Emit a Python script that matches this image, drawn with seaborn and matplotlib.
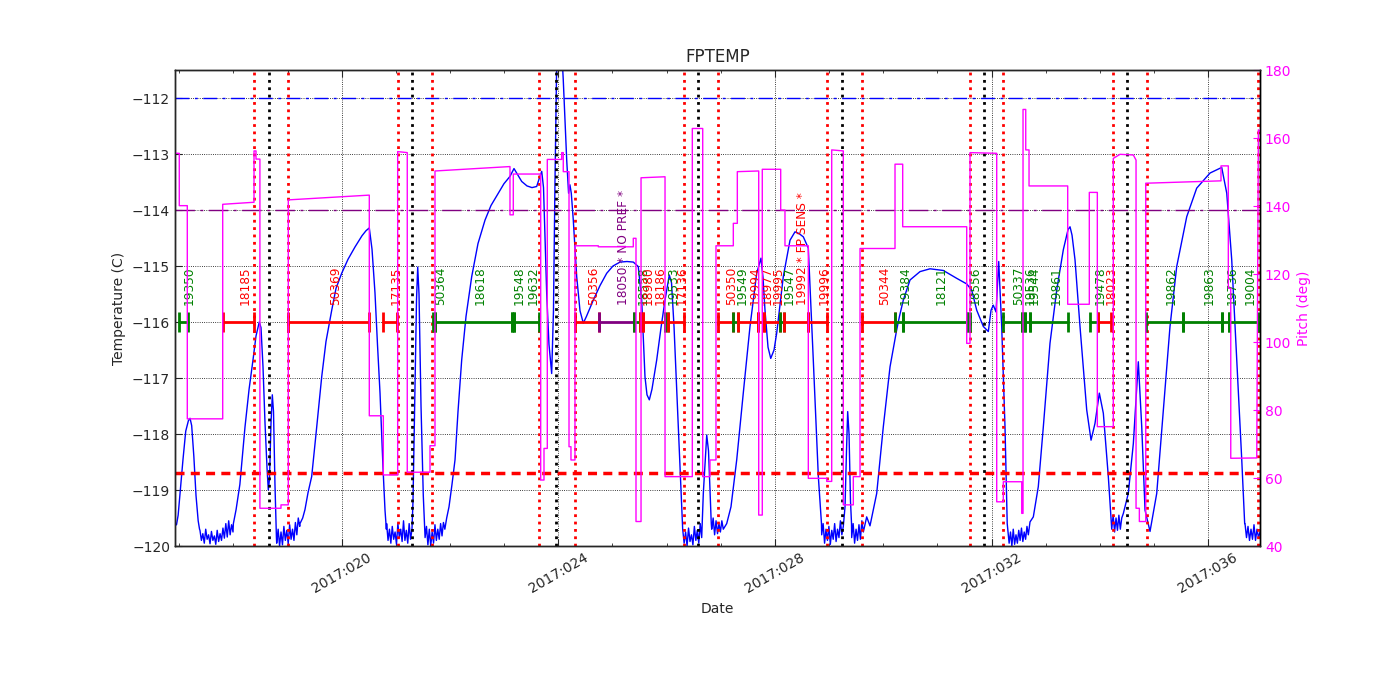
import numpy as np
import pandas as pd
import matplotlib
matplotlib.use("Agg")
import matplotlib.pyplot as plt
import seaborn as sns
from matplotlib.ticker import MultipleLocator, FuncFormatter

# FPTEMP keypoints (day of 2017, deg C), smooth parts of the curve
fptemp_pts = [
    (16.922, -119.63), (16.95, -119.62), (16.98, -119.45), (17.02, -119.0), (17.07, -118.45),
    (17.12, -117.95), (17.17, -117.76), (17.20, -117.72), (17.23, -117.85), (17.27, -118.4),
    (17.31, -119.1), (17.35, -119.55), (17.375, -119.7),
    (18.00, -119.6), (18.05, -119.35), (18.12, -118.9), (18.214, -117.88), (18.29, -117.2),
    (18.362, -116.68), (18.418, -116.25), (18.478, -116.0), (18.51, -116.1), (18.547, -116.8),
    (18.584, -117.8), (18.621, -118.6), (18.645, -119.0), (18.667, -118.8), (18.695, -117.8),
    (18.719, -117.3), (18.741, -117.6), (18.768, -118.9), (18.795, -119.85),
    (19.23, -119.6), (19.28, -119.5), (19.322, -119.35), (19.378, -119.05), (19.446, -118.76),
    (19.526, -118.0), (19.631, -116.98), (19.71, -116.35), (19.816, -115.79), (19.895, -115.4),
    (20.0, -115.13), (20.117, -114.88), (20.246, -114.66), (20.375, -114.46), (20.449, -114.37),
    (20.51, -114.32), (20.56, -114.7), (20.615, -115.48), (20.661, -116.4), (20.708, -117.27),
    (20.763, -118.6), (20.80, -119.36), (20.825, -119.7),
    (21.317, -119.2), (21.354, -117.2), (21.382, -115.6), (21.404, -115.02), (21.428, -115.5),
    (21.465, -117.5), (21.507, -119.1), (21.535, -119.75),
    (21.939, -119.5), (21.982, -119.3), (22.037, -118.9), (22.093, -118.46), (22.148, -117.6),
    (22.216, -116.68), (22.296, -115.9), (22.401, -115.19), (22.517, -114.6), (22.647, -114.18),
    (22.757, -113.92), (22.892, -113.70), (22.997, -113.53), (23.108, -113.40), (23.182, -113.26),
    (23.237, -113.35), (23.324, -113.49), (23.422, -113.57), (23.514, -113.6), (23.601, -113.58),
    (23.644, -113.45), (23.694, -113.31), (23.727, -113.6), (23.786, -115.49), (23.828, -116.4),
    (23.878, -116.92), (23.911, -115.8), (23.939, -113.5), (23.967, -111.6), (23.995, -110.8),
    (24.05, -110.9), (24.092, -111.68), (24.155, -113.1), (24.19, -113.7), (24.215, -113.55),
    (24.24, -113.7), (24.277, -114.18), (24.34, -115.19), (24.401, -115.8), (24.462, -116.02),
    (24.52, -115.9), (24.646, -115.61), (24.77, -115.35), (24.894, -115.13), (25.01, -115.0),
    (25.14, -114.93), (25.269, -114.92), (25.385, -114.93), (25.477, -115.01), (25.54, -115.61),
    (25.601, -116.98), (25.638, -117.3), (25.681, -117.39), (25.73, -117.2), (25.817, -116.68),
    (25.897, -116.1), (25.971, -115.61), (26.05, -115.16), (26.091, -115.3), (26.137, -116.08),
    (26.216, -117.87), (26.29, -119.54),
    (26.678, -119.06), (26.741, -118.02), (26.774, -118.3), (26.825, -119.6),
    (27.11, -119.6), (27.189, -119.3), (27.295, -118.46), (27.416, -117.27), (27.54, -116.08),
    (27.664, -115.13), (27.743, -114.86), (27.78, -115.2), (27.817, -115.79), (27.873, -116.45),
    (27.923, -116.65), (27.984, -116.5), (28.033, -116.2), (28.155, -115.19), (28.279, -114.54),
    (28.371, -114.39), (28.445, -114.42), (28.525, -114.48), (28.617, -114.68), (28.709, -116.68),
    (28.802, -118.76), (28.86, -119.6),
    (29.295, -119.3), (29.322, -118.3), (29.344, -117.6), (29.369, -118.0), (29.396, -119.2),
    (29.415, -119.6),
    (29.695, -119.48), (29.756, -119.64), (29.88, -119.06), (30.002, -117.87), (30.126, -116.8),
    (30.249, -116.14), (30.30, -115.9), (30.371, -115.61), (30.495, -115.25), (30.68, -115.1),
    (30.864, -115.05), (31.11, -115.08), (31.357, -115.22), (31.542, -115.32), (31.634, -115.43),
    (31.727, -115.79), (31.849, -116.08), (31.941, -116.17), (31.991, -115.79), (32.033, -115.7),
    (32.083, -115.82), (32.133, -114.92), (32.188, -116.08), (32.249, -117.87), (32.29, -119.6),
    (32.711, -119.57), (32.772, -119.48), (32.864, -118.94), (32.957, -117.87), (33.08, -116.38),
    (33.204, -115.43), (33.326, -114.71), (33.413, -114.35), (33.45, -114.3), (33.487, -114.45),
    (33.542, -114.89), (33.634, -116.08), (33.758, -117.57), (33.838, -118.11), (33.911, -117.81),
    (33.991, -117.27), (34.065, -117.63), (34.157, -118.76), (34.215, -119.6),
    (34.434, -119.42), (34.526, -119.06), (34.619, -118.17), (34.711, -116.71), (34.774, -117.87),
    (34.835, -119.36), (34.927, -119.74), (35.051, -119.06), (35.173, -117.57), (35.296, -116.08),
    (35.42, -115.01), (35.605, -114.12), (35.789, -113.61), (36.035, -113.34), (36.251, -113.24),
    (36.344, -113.7), (36.436, -114.89), (36.528, -116.68), (36.621, -118.46), (36.675, -119.6),
]

# cold, noisy stretches: (start day, end day, readings)
fptemp_noise = [
    (17.383, 17.993, [-119.72, -119.9, -119.78, -119.95, -119.7, -119.88, -119.8, -119.96,
                      -119.74, -119.9, -119.82, -119.97, -119.72, -119.92, -119.78, -119.9,
                      -119.68, -119.86, -119.6, -119.84, -119.55, -119.8, -119.62, -119.75]),
    (18.80, 19.225, [-119.95, -119.7, -120.0, -119.75, -119.98, -119.65, -119.9, -119.72, -119.96,
                     -119.62, -119.88, -119.7, -119.9, -119.58, -119.8, -119.5, -119.65]),
    (20.83, 21.298, [-119.6, -119.9, -119.7, -119.95, -119.65, -119.88, -119.75, -119.97, -119.6,
                     -119.85, -119.7, -119.92, -119.55, -119.9, -119.72, -119.95, -119.6,
                     -119.88, -119.7]),
    (21.54, 21.905, [-119.85, -119.65, -119.98, -119.7, -120.0, -119.75, -119.95, -119.62, -119.9,
                     -119.7, -119.88, -119.6, -119.82, -119.58, -119.7]),
    (26.297, 26.648, [-119.7, -119.95, -119.75, -120.0, -119.68, -119.92, -119.8, -119.98,
                      -119.65, -119.9, -119.72, -119.95, -119.6, -119.85]),
    (26.833, 27.047, [-119.7, -119.5, -119.8, -119.55, -119.78, -119.6, -119.75, -119.55, -119.7]),
    (28.864, 29.263, [-119.8, -119.6, -119.95, -119.7, -119.9, -119.65, -119.97, -119.72, -119.88,
                      -119.6, -119.92, -119.7, -119.85, -119.55, -119.8, -119.65]),
    (29.418, 29.633, [-119.85, -119.6, -119.95, -119.7, -119.9, -119.62, -119.88, -119.55, -119.75]),
    (32.30, 32.68, [-119.7, -119.95, -119.75, -120.0, -119.7, -119.97, -119.8, -119.95, -119.72,
                    -119.9, -119.68, -119.92, -119.75, -119.88, -119.65, -119.8]),
    (34.22, 34.405, [-119.7, -119.45, -119.75, -119.5, -119.72, -119.45, -119.7, -119.5]),
    (36.681, 36.958, [-119.6, -119.85, -119.65, -119.9, -119.7, -119.88, -119.62, -119.9, -119.7,
                      -119.85, -119.75]),
]

# pitch vertices (day, deg); repeated days make the jumps
pitch_pts = [
    (16.922, 155.5), (17.001, 155.5), (17.001, 140.1), (17.149, 140.1), (17.149, 77.4),
    (17.803, 77.4), (17.803, 140.5), (18.381, 141.1), (18.381, 156.2), (18.418, 156.2),
    (18.418, 153.8), (18.49, 153.8), (18.49, 51.1), (18.879, 51.1), (18.879, 52.1), (19.014, 52.1),
    (19.014, 141.8), (20.51, 143.2), (20.51, 78.3), (20.769, 78.3), (20.769, 60.9), (21.034, 60.9),
    (21.034, 156.0), (21.2, 155.7), (21.211, 155.7), (21.211, 61.7), (21.631, 61.7), (21.631, 69.5),
    (21.723, 69.5), (21.723, 150.3), (23.108, 151.6), (23.108, 137.4), (23.169, 137.4),
    (23.169, 149.4), (23.675, 149.4), (23.675, 59.4), (23.736, 59.4), (23.736, 68.7),
    (23.797, 68.7), (23.797, 153.7), (24.063, 153.7), (24.063, 155.7), (24.092, 155.7),
    (24.092, 150.1), (24.198, 150.1), (24.198, 69.2), (24.234, 69.2), (24.234, 65.3),
    (24.308, 65.3), (24.308, 128.3), (24.739, 128.3), (24.739, 128.0), (25.385, 128.0),
    (25.385, 130.5), (25.435, 130.5), (25.435, 47.2), (25.528, 47.2), (25.528, 148.3),
    (25.971, 148.6), (25.971, 60.4), (26.475, 60.4), (26.475, 162.8), (26.667, 162.8),
    (26.667, 60.4), (26.801, 60.4), (26.801, 65.3), (26.912, 65.3), (26.912, 128.3),
    (27.232, 128.3), (27.232, 134.9), (27.306, 134.9), (27.306, 150.1), (27.701, 150.3),
    (27.701, 49.1), (27.767, 49.1), (27.767, 150.8), (28.107, 150.8), (28.107, 138.8),
    (28.186, 138.8), (28.186, 128.3), (28.617, 128.3), (28.617, 59.9), (28.957, 59.9),
    (28.957, 59.0), (29.049, 59.0), (29.049, 156.5), (29.263, 156.2), (29.263, 52.1),
    (29.448, 52.1), (29.448, 60.4), (29.572, 60.4), (29.572, 127.5), (30.218, 127.5),
    (30.218, 152.3), (30.36, 152.3), (30.36, 133.9), (31.542, 133.9), (31.542, 99.6),
    (31.603, 99.6), (31.603, 155.7), (32.096, 155.5), (32.096, 53.0), (32.218, 53.0),
    (32.218, 58.9), (32.558, 58.9), (32.558, 49.6), (32.582, 49.6), (32.582, 168.4),
    (32.632, 168.4), (32.632, 156.5), (32.693, 156.5), (32.693, 145.9), (33.407, 145.9),
    (33.407, 111.1), (33.806, 111.1), (33.806, 144.0), (33.954, 144.0), (33.954, 75.1),
    (34.249, 75.1), (34.249, 154.0), (34.373, 155.2), (34.619, 155.0), (34.669, 153.5),
    (34.669, 51.1), (34.73, 51.1), (34.73, 47.2), (34.848, 47.2), (34.848, 146.7),
    (36.238, 147.4), (36.238, 151.8), (36.373, 151.8), (36.373, 115.8), (36.418, 115.8),
    (36.418, 65.8), (36.898, 65.9), (36.928, 162.4), (36.958, 162.0),
]

# observations
obs_start = [16.99, 17.814, 19.014, 20.769, 21.681, 21.723, 23.136, 23.182, 24.308, 24.757,
             25.404, 25.509, 25.564, 25.971, 26.032, 26.944, 27.232, 27.324, 27.693, 27.799,
             28.094, 28.177, 28.606, 29.603, 30.218, 30.360, 31.542, 32.218, 32.558, 32.619,
             32.711, 33.819, 33.961, 34.853, 35.531, 36.251, 36.386]
obs_stop = [17.153, 18.381, 20.510, 21.016, 21.723, 23.136, 23.182, 23.649, 24.757, 25.404,
            25.509, 25.564, 25.971, 26.032, 26.321, 27.232, 27.324, 27.693, 27.799, 28.094,
            28.177, 28.606, 28.957, 30.218, 30.360, 31.542, 31.603, 32.558, 32.619, 32.711,
            33.419, 33.961, 34.201, 35.531, 36.251, 36.386, 36.922]
obs_label = ["19350", "18185", "50369", "17135", "50364", "18618", "19548", "19632", "50356",
             "18050 * NO PREF *", "18558", "18980", "18186", "19533", "17136", "50350", "19549",
             "19994", "18977", "19995", "19547", "19992 * FP SENS *", "19996", "50344", "19384",
             "18121", "18556", "50337", "19536", "19544", "19861", "19478", "18023", "19862",
             "19863", "19736", "19004"]
obs_kind = ["ok", "hot", "hot", "hot", "ok", "ok", "ok", "ok", "hot", "nopref", "ok", "hot", "hot",
            "ok", "hot", "hot", "ok", "hot", "hot", "hot", "ok", "hot", "hot", "hot", "ok", "ok",
            "ok", "ok", "ok", "ok", "ok", "ok", "hot", "ok", "ok", "ok", "ok"]

comm_days = [18.386, 19.014, 21.034, 21.673, 23.65, 24.308, 26.321, 26.944, 28.968, 29.603,
             31.603, 32.218, 34.249, 34.866, 36.927]
perigee_days = [18.663, 21.304, 23.958, 26.585, 29.234, 31.867, 34.508]

limit_upper = -112.0
limit_mid = -114.0
limit_plan = -118.7
obs_row = -116.0
label_row = -115.7

kind_color = {"ok": "#008000", "hot": "#ff0000", "nopref": "#800080"}

# build the temperature series
days = [p[0] for p in fptemp_pts]
temps = [p[1] for p in fptemp_pts]
for t0, t1, vals in fptemp_noise:
    days += list(np.linspace(t0, t1, len(vals)))
    temps += vals
fp_df = pd.DataFrame({"day": days, "temp": temps}).sort_values("day")
pitch_df = pd.DataFrame(pitch_pts, columns=["day", "pitch"])

sns.set_style("ticks", {"xtick.direction": "in", "ytick.direction": "in"})
plt.rcParams["font.family"] = "DejaVu Sans"
plt.rcParams["axes.linewidth"] = 1.0

fig, ax = plt.subplots(figsize=(14, 7), dpi=100)
fig.subplots_adjust(left=0.125, right=0.9, top=0.9, bottom=0.22)

sns.lineplot(data=fp_df, x="day", y="temp", ax=ax, color="#0000ff", lw=1,
             estimator=None, sort=False)

ax.axhline(limit_upper, color="#0000ff", lw=1, dashes=(10, 4, 2, 4))
ax.axhline(limit_mid, color="#800080", lw=1, dashes=(14, 4, 2, 4))
ax.axhline(limit_plan, color="#ff0000", lw=2.5, dashes=(2.6, 1.8))

for d in comm_days:
    ax.axvline(d, color="#ff0000", lw=2, ls=":")
for d in perigee_days:
    ax.axvline(d, color="k", lw=2, ls=":")

for s, e, lab, k in zip(obs_start, obs_stop, obs_label, obs_kind):
    c = kind_color[k]
    ax.plot([s, e], [obs_row, obs_row], color=c, lw=2, marker="|", ms=15, mew=2)
    ax.text((s + e) / 2, label_row, lab, rotation=90, ha="left", va="bottom",
            color=c, fontsize=8.7)

ax.set_xlim(16.922, 36.958)
ax.set_ylim(-120, -111.5)
ax.yaxis.set_major_locator(MultipleLocator(1))
ax.xaxis.set_major_locator(MultipleLocator(4))
ax.xaxis.set_minor_locator(MultipleLocator(1))
ax.xaxis.set_major_formatter(FuncFormatter(lambda d, _: "2017:%03d" % int(round(d))))
ax.grid(True, which="major", color="k", ls=":", lw=0.6)
ax.tick_params(axis="both", which="major", length=5, labelsize=10, top=True)
ax.tick_params(axis="x", which="minor", length=2.5, top=True)
for lab in ax.get_xticklabels():
    lab.set_rotation(30)
    lab.set_ha("center")
ax.set_xlabel("Date", fontsize=10)
ax.set_ylabel("Temperature (C)", fontsize=10)
ax.set_title("FPTEMP", fontsize=12)
for sp in ax.spines.values():
    sp.set_visible(True)
    sp.set_color("k")

ax2 = ax.twinx()
sns.lineplot(data=pitch_df, x="day", y="pitch", ax=ax2, color="#ff00ff", lw=1,
             estimator=None, sort=False)
ax2.set_ylim(40, 180)
ax2.yaxis.set_major_locator(MultipleLocator(20))
ax2.tick_params(axis="y", direction="in", length=5, labelsize=10, colors="#ff00ff")
ax2.set_ylabel("Pitch (deg)", color="#ff00ff", fontsize=10)
ax2.set_xlim(16.922, 36.958)
ax2.spines["right"].set_color("k")

fig.savefig("out.png", dpi=100)
